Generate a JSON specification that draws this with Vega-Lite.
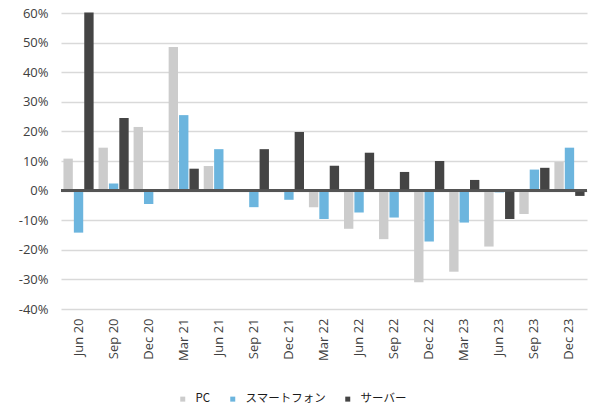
{
  "$schema": "https://vega.github.io/schema/vega-lite/v6.json",
  "autosize": {"type": "none"},
  "padding": {"left": 61, "top": 13, "right": 2, "bottom": 101},
  "width": 526,
  "height": 296,
  "background": "white",
  "config": {
    "view": {"stroke": null},
    "font": "Open Sans",
    "axis": {"labelFont": "Open Sans", "labelColor": "#404040", "labelFontSize": 13}
  },
  "data": {
    "values": [
      {"q": "Jun 20", "s": "PC", "v": 10.8}, {"q": "Jun 20", "s": "スマートフォン", "v": -14.2}, {"q": "Jun 20", "s": "サーバー", "v": 60.2},
      {"q": "Sep 20", "s": "PC", "v": 14.5}, {"q": "Sep 20", "s": "スマートフォン", "v": 2.4}, {"q": "Sep 20", "s": "サーバー", "v": 24.5},
      {"q": "Dec 20", "s": "PC", "v": 21.5}, {"q": "Dec 20", "s": "スマートフォン", "v": -4.5}, {"q": "Dec 20", "s": "サーバー", "v": 0},
      {"q": "Mar 21", "s": "PC", "v": 48.5}, {"q": "Mar 21", "s": "スマートフォン", "v": 25.5}, {"q": "Mar 21", "s": "サーバー", "v": 7.4},
      {"q": "Jun 21", "s": "PC", "v": 8.3}, {"q": "Jun 21", "s": "スマートフォン", "v": 14.0}, {"q": "Jun 21", "s": "サーバー", "v": 0},
      {"q": "Sep 21", "s": "PC", "v": 0}, {"q": "Sep 21", "s": "スマートフォン", "v": -5.6}, {"q": "Sep 21", "s": "サーバー", "v": 14.0},
      {"q": "Dec 21", "s": "PC", "v": -0.4}, {"q": "Dec 21", "s": "スマートフォン", "v": -3.1}, {"q": "Dec 21", "s": "サーバー", "v": 19.8},
      {"q": "Mar 22", "s": "PC", "v": -5.6}, {"q": "Mar 22", "s": "スマートフォン", "v": -9.6}, {"q": "Mar 22", "s": "サーバー", "v": 8.4},
      {"q": "Jun 22", "s": "PC", "v": -12.9}, {"q": "Jun 22", "s": "スマートフォン", "v": -7.4}, {"q": "Jun 22", "s": "サーバー", "v": 12.8},
      {"q": "Sep 22", "s": "PC", "v": -16.4}, {"q": "Sep 22", "s": "スマートフォン", "v": -9.1}, {"q": "Sep 22", "s": "サーバー", "v": 6.3},
      {"q": "Dec 22", "s": "PC", "v": -31.0}, {"q": "Dec 22", "s": "スマートフォン", "v": -17.2}, {"q": "Dec 22", "s": "サーバー", "v": 10.0},
      {"q": "Mar 23", "s": "PC", "v": -27.4}, {"q": "Mar 23", "s": "スマートフォン", "v": -10.8}, {"q": "Mar 23", "s": "サーバー", "v": 3.6},
      {"q": "Jun 23", "s": "PC", "v": -18.9}, {"q": "Jun 23", "s": "スマートフォン", "v": -0.6}, {"q": "Jun 23", "s": "サーバー", "v": -9.6},
      {"q": "Sep 23", "s": "PC", "v": -7.9}, {"q": "Sep 23", "s": "スマートフォン", "v": 7.1}, {"q": "Sep 23", "s": "サーバー", "v": 7.7},
      {"q": "Dec 23", "s": "PC", "v": 9.7}, {"q": "Dec 23", "s": "スマートフォン", "v": 14.5}, {"q": "Dec 23", "s": "サーバー", "v": -1.8}
    ]
  },
  "layer": [
    {
      "mark": {"type": "bar", "stroke": null},
      "encoding": {
        "x": {
          "field": "q", "type": "nominal", "sort": null,
          "scale": {"paddingInner": 0.14, "paddingOuter": 0.07},
          "axis": {"title": null, "labelAngle": -90, "ticks": false, "domain": false, "labelPadding": 9, "labelBaseline": "middle", "labelAlign": "right", "grid": false}
        },
        "xOffset": {"field": "s", "type": "nominal", "sort": ["PC", "スマートフォン", "サーバー"], "scale": {"paddingInner": 0.1}},
        "y": {
          "field": "v", "type": "quantitative",
          "scale": {"domain": [-40, 60], "nice": false},
          "axis": {"title": null, "values": [-40, -30, -20, -10, 0, 10, 20, 30, 40, 50, 60], "labelExpr": "datum.value + '%'", "labelOverlap": false, "ticks": false, "domain": false, "gridColor": "#d9d9d9", "gridWidth": 1.5, "labelPadding": 13}
        },
        "color": {
          "field": "s", "type": "nominal",
          "scale": {"domain": ["PC", "スマートフォン", "サーバー"], "range": ["#cccccc", "#6cb5de", "#444444"]},
          "legend": {
            "title": null, "orient": "none", "direction": "horizontal",
            "legendX": 116, "legendY": 380,
            "symbolType": "square", "symbolSize": 25, "symbolStrokeWidth": 0,
            "labelFont": "Noto Sans CJK JP", "labelFontSize": 11.5, "labelColor": "#1a1a1a",
            "columnPadding": 16, "labelOffset": 7
          }
        }
      }
    },
    {
      "mark": {"type": "rule", "color": "#555555", "strokeWidth": 1.5},
      "encoding": {
        "y": {
          "datum": 0, "type": "quantitative",
          "axis": {"title": null, "values": [-40, -30, -20, -10, 0, 10, 20, 30, 40, 50, 60], "labelExpr": "datum.value + '%'", "labelOverlap": false, "ticks": false, "domain": false, "gridColor": "#d9d9d9", "gridWidth": 1.5, "labelPadding": 13}
        }
      }
    }
  ]
}
